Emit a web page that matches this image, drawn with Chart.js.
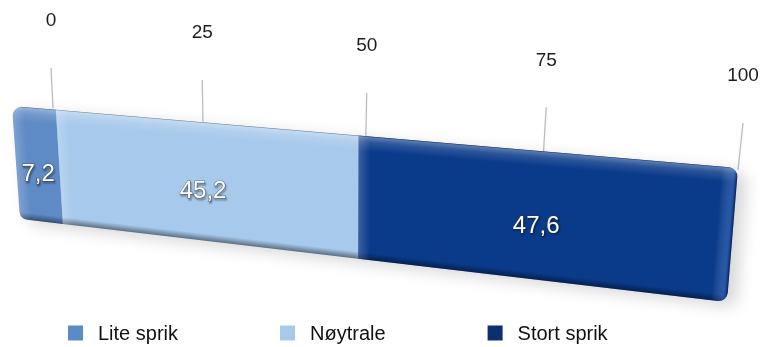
<!DOCTYPE html>
<html>
<head>
<meta charset="utf-8">
<script src="https://cdn.jsdelivr.net/npm/chart.js@4.4.1/dist/chart.umd.min.js"></script>
<style>
  html, body { margin: 0; background: #fff; }
  #wrap { width: 761px; height: 347px; }
</style>
</head>
<body>
<div id="wrap"><canvas id="chart"></canvas></div>
<script>
const categories = ['Sprik'];
const seriesLabels = ['Lite sprik', 'Nøytrale', 'Stort sprik'];
const liteSprik = [7.2];
const noytrale = [45.2];
const stortSprik = [47.6];
const tickValues = [0, 25, 50, 75, 100];

const barColors = ['#5e8ac5', '#a7c9eb', '#0a3a8a'];
const legendColors = ['#5b8bc7', '#a9c9e9', '#0b2f6f'];

// screen corners (TL, TR, BR, BL) of the bar's front face and of the wall behind it
const frontFace = [[12, 106], [738, 168], [727, 302], [20, 219]];
const gridWall = [[51, 68], [743, 123], [738, 170], [53, 108]];

const FONT = '"Liberation Sans", Arial, Helvetica, sans-serif';

// unit square -> quad
function homography(q) {
  const [[x0, y0], [x1, y1], [x2, y2], [x3, y3]] = q;
  const dx1 = x1 - x2, dx2 = x3 - x2, dx3 = x0 - x1 + x2 - x3;
  const dy1 = y1 - y2, dy2 = y3 - y2, dy3 = y0 - y1 + y2 - y3;
  const den = dx1 * dy2 - dx2 * dy1;
  const g = (dx3 * dy2 - dx2 * dy3) / den;
  const h = (dx1 * dy3 - dx3 * dy1) / den;
  const a = x1 - x0 + g * x1, b = x3 - x0 + h * x3, c = x0;
  const d = y1 - y0 + g * y1, e = y3 - y0 + h * y3, f = y0;
  return (u, v) => {
    const w = g * u + h * v + 1;
    return [(a * u + b * v + c) / w, (d * u + e * v + f) / w];
  };
}

const front = homography(frontFace);
const wall = homography(gridWall);

function toUV(chart, px, py) {
  const a = chart.chartArea;
  return [(px - a.left) / (a.right - a.left), (py - a.top) / (a.bottom - a.top)];
}

function roundQuad(ctx, pts, radii) {
  const s = pts[3], e = pts[0];
  ctx.beginPath();
  ctx.moveTo((s[0] + e[0]) / 2, (s[1] + e[1]) / 2);
  for (let i = 0; i < 4; i++) {
    const p = pts[i], n = pts[(i + 1) % 4];
    ctx.arcTo(p[0], p[1], n[0], n[1], radii[i]);
  }
  ctx.closePath();
}

// gradient running inward from the edge p -> q (quad wound clockwise)
function edgeShade(ctx, p, q, depth, stops) {
  const len = Math.hypot(q[0] - p[0], q[1] - p[1]);
  const ex = (q[0] - p[0]) / len, ey = (q[1] - p[1]) / len;
  ctx.save();
  ctx.transform(ex, ey, -ey, ex, p[0], p[1]);
  const gr = ctx.createLinearGradient(0, 0, 0, depth);
  stops.forEach(([o, c]) => gr.addColorStop(o, c));
  ctx.fillStyle = gr;
  ctx.fillRect(-2000, -2000, 4000, 4000);
  ctx.restore();
}

function segmentBox(chart, bar) {
  const {x, base, y, height} = bar.getProps(['x', 'base', 'y', 'height'], true);
  const [u0, v0] = toUV(chart, Math.min(x, base), y - height / 2);
  const [u1, v1] = toUV(chart, Math.max(x, base), y + height / 2);
  return {u0, u1, v0, v1};
}

const perspective = {
  id: 'perspective',
  beforeDatasetsDraw(chart) {
    const {ctx} = chart;
    const xs = chart.scales.x;

    // grid lines on the back wall, value labels above them
    ctx.save();
    ctx.strokeStyle = '#bcbcbc';
    ctx.lineWidth = 1.3;
    ctx.font = '19px ' + FONT;
    ctx.fillStyle = '#1c1c1c';
    ctx.textAlign = 'center';
    ctx.textBaseline = 'middle';
    tickValues.forEach(t => {
      const [u] = toUV(chart, xs.getPixelForValue(t), 0);
      const top = wall(u, 0), bot = wall(u, 1);
      ctx.beginPath();
      ctx.moveTo(top[0], top[1]);
      ctx.lineTo(bot[0], bot[1]);
      ctx.stroke();
      ctx.fillText(String(t), top[0], top[1] - 47);
    });
    ctx.restore();

    // soft shadow under the whole bar
    const metas = chart.getSortedVisibleDatasetMetas();
    const first = segmentBox(chart, metas.find(m => m.index === 0).data[0]);
    const last = segmentBox(chart, metas.find(m => m.index === metas.length - 1).data[0]);
    const pts = [front(first.u0, first.v0), front(last.u1, first.v0), front(last.u1, first.v1), front(first.u0, first.v1)];
    ctx.save();
    ctx.shadowColor = 'rgba(0,0,0,0.16)';
    ctx.shadowBlur = 16;
    ctx.shadowOffsetX = 9;
    ctx.shadowOffsetY = 5;
    ctx.fillStyle = '#fff';
    roundQuad(ctx, pts, [9, 9, 9, 9]);
    ctx.fill();
    ctx.restore();
  },

  beforeDatasetDraw(chart, args) {
    const {ctx} = chart;
    const meta = args.meta;
    const count = chart.data.datasets.length;
    const color = chart.data.datasets[meta.index].backgroundColor;
    meta.data.forEach(bar => {
      const {u0, u1, v0, v1} = segmentBox(chart, bar);
      const pts = [front(u0, v0), front(u1, v0), front(u1, v1), front(u0, v1)];
      const r = 9;
      const isFirst = meta.index === 0, isLast = meta.index === count - 1;
      const radii = [isFirst ? r : 0, isLast ? r : 0, isLast ? r : 0, isFirst ? r : 0];

      ctx.save();
      roundQuad(ctx, pts, radii);
      ctx.clip();
      ctx.fillStyle = color;
      ctx.fillRect(0, 0, chart.width, chart.height);

      // bevelled top edge
      edgeShade(ctx, pts[0], pts[1], 15, [
        [0, 'rgba(30,30,50,0.45)'],
        [0.07, 'rgba(255,255,255,0.32)'],
        [0.4, 'rgba(255,255,255,0.14)'],
        [1, 'rgba(255,255,255,0)']
      ]);
      // darker lower edge
      edgeShade(ctx, pts[2], pts[3], 7, [
        [0, 'rgba(0,0,0,0.45)'],
        [1, 'rgba(0,0,0,0)']
      ]);
      // rounded left edge of every segment
      edgeShade(ctx, pts[3], pts[0], 12, [
        [0, 'rgba(255,255,255,0.2)'],
        [1, 'rgba(255,255,255,0)']
      ]);
      // lit right end of the bar
      if (isLast) {
        edgeShade(ctx, pts[1], pts[2], 16, [
          [0, 'rgba(0,0,20,0.5)'],
          [0.25, 'rgba(110,165,255,0.28)'],
          [1, 'rgba(255,255,255,0)']
        ]);
      }
      ctx.restore();
    });
    return false;
  },

  afterDatasetsDraw(chart) {
    const {ctx} = chart;
    ctx.save();
    ctx.font = '24px ' + FONT;
    ctx.textAlign = 'center';
    ctx.textBaseline = 'middle';
    chart.getSortedVisibleDatasetMetas().forEach(meta => {
      meta.data.forEach((bar, i) => {
        const value = chart.data.datasets[meta.index].data[i];
        const {u0, u1} = segmentBox(chart, bar);
        const [px, py] = front((u0 + u1) / 2, 0.58);
        const text = value.toFixed(1).replace('.', ',');
        ctx.shadowColor = 'rgba(0,0,0,0.75)';
        ctx.shadowOffsetX = 1;
        ctx.shadowOffsetY = 1.5;
        ctx.shadowBlur = 1.5;
        ctx.strokeStyle = 'rgba(50,50,50,0.55)';
        ctx.lineWidth = 1.2;
        ctx.strokeText(text, px, py);
        ctx.shadowColor = 'transparent';
        ctx.fillStyle = '#fff';
        ctx.fillText(text, px, py);
      });
    });
    ctx.restore();
  },

  afterDraw(chart) {
    // legend row under the bar
    const {ctx} = chart;
    ctx.save();
    ctx.font = '20px ' + FONT;
    ctx.textBaseline = 'middle';
    ctx.textAlign = 'left';
    let cx = 68;
    const cy = 333, box = 15;
    chart.data.datasets.forEach((ds, i) => {
      ctx.fillStyle = legendColors[i];
      ctx.fillRect(cx, cy - box / 2, box, box);
      ctx.fillStyle = '#111';
      ctx.fillText(ds.label, cx + box + 15, cy + 1);
      cx += box + 15 + ctx.measureText(ds.label).width + 102;
    });
    ctx.restore();
  }
};

new Chart(document.getElementById('chart'), {
  type: 'bar',
  data: {
    labels: categories,
    datasets: [
      {label: seriesLabels[0], data: liteSprik, backgroundColor: barColors[0]},
      {label: seriesLabels[1], data: noytrale, backgroundColor: barColors[1]},
      {label: seriesLabels[2], data: stortSprik, backgroundColor: barColors[2]}
    ]
  },
  options: {
    indexAxis: 'y',
    responsive: true,
    maintainAspectRatio: false,
    animation: false,
    events: [],
    barPercentage: 1,
    categoryPercentage: 1,
    layout: {padding: 0},
    scales: {
      x: {stacked: true, min: 0, max: 100, display: false},
      y: {stacked: true, display: false}
    },
    plugins: {
      legend: {display: false},
      tooltip: {enabled: false}
    }
  },
  plugins: [perspective]
});
</script>
</body>
</html>
